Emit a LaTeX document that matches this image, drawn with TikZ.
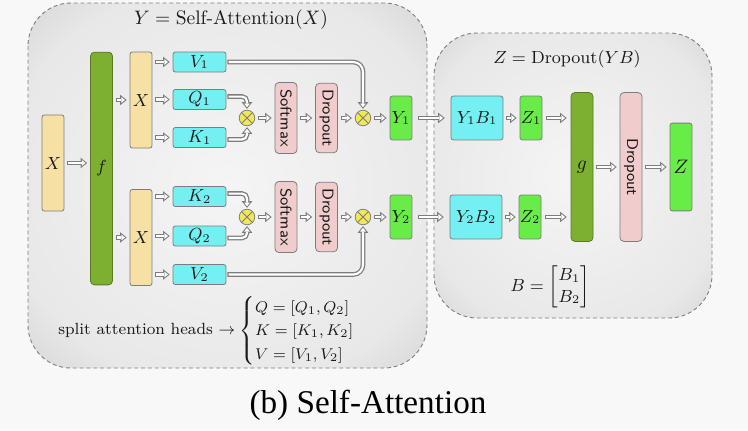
\documentclass[tikz,border=0pt]{standalone}
\usepackage{amsmath,amssymb}
\usepackage{fontspec}
\newfontfamily\capfont{Liberation Serif}
\usetikzlibrary{arrows.meta,calc}

\definecolor{bgcol}{RGB}{248,248,248}
\definecolor{xtan}{RGB}{246,224,164}
\definecolor{fgreen}{RGB}{125,176,48}
\definecolor{qcyan}{RGB}{116,240,242}
\definecolor{oppink}{RGB}{240,204,204}
\definecolor{ygreen}{RGB}{104,236,72}
\definecolor{mulyel}{RGB}{240,232,90}
\definecolor{edge}{RGB}{125,125,125}
\pgfdeclareradialshading{panelshade}{\pgfpoint{0bp}{0bp}}{color(0bp)=(black!4); color(28bp)=(black!9); color(50bp)=(black!28); color(72bp)=(black!55)}

\begin{document}
\begin{tikzpicture}[x=0.018cm, y=-0.018cm, every node/.style={font=\small, text=black!90},
    panel/.style={draw=edge, dash pattern=on 2pt off 1.5pt, line width=0.45pt, rounded corners=22pt, shading=panelshade},
    box/.style={draw=edge, line width=0.4pt, rounded corners=1.2pt, inner sep=0pt, minimum width=0.396cm, font=\small},
    inbox/.style={box, fill=xtan, minimum height=1.73cm},
    fnet/.style={box, fill=fgreen, draw=fgreen!70!black, rounded corners=2pt, minimum height=#1},
    qkv/.style={box, fill=qcyan, minimum width=0.954cm, minimum height=0.36cm},
    opbox/.style={box, fill=oppink, rounded corners=2pt, rotate=-90, minimum width=#1, minimum height=0.396cm, font=\sffamily\footnotesize},
    outbox/.style={box, fill=ygreen, minimum height=#1},
    mul/.style={circle, draw=edge, fill=mulyel, inner sep=0pt, minimum size=0.28cm,
      path picture={\draw[edge, line width=0.5pt] (path picture bounding box.north west) -- (path picture bounding box.south east)
        (path picture bounding box.north east) -- (path picture bounding box.south west);}},
    dbl/.style={draw=edge, line width=2.4pt, -{Triangle[width=5.4pt,length=3.4pt,line width=0pt]},
      shorten <=#1, shorten >=#1,
      postaction={draw=white, line width=1.1pt, -{Triangle[width=3pt,length=1.9pt,line width=0pt]},
        shorten <=#1+0.6pt, shorten >=#1+0.85pt}},
    dbl/.default=1.5pt]
    % background and panels
    \fill[bgcol] (0,0) rectangle (748,430);
    \shadedraw[panel] (28,3) rectangle (427,368);
    \shadedraw[panel] (434,33) rectangle (712,318);
    \node[font=\normalsize] (ttl1) at (231,20) {$Y=\text{Self-Attention}(X)$};
    \node (ttl2) at (567,59) {$Z=\text{Dropout}(YB)$};
    % input and projections
    \node[inbox] (xin) at (53,163) {$X$};
    \node[fnet=4.19cm] (f) at (101.5,168.5) {$f$};
    \node[inbox] (xa) at (141,100) {$X$};
    \node[inbox] (xb) at (141,237.5) {$X$};
    \node[qkv] (v1) at (199.5,62) {$V_1$};
    \node[qkv] (q1) at (199.5,99.5) {$Q_1$};
    \node[qkv] (k1) at (199.5,137.5) {$K_1$};
    \node[qkv] (k2) at (199.5,196.5) {$K_2$};
    \node[qkv] (q2) at (199.5,236) {$Q_2$};
    \node[qkv] (v2) at (199.5,274.5) {$V_2$};
    \draw[dbl] (xin) -- (xin -| f.west);
    \draw[dbl] (f.east |- xa) -- (xa);
    \draw[dbl] (f.east |- xb) -- (xb);
    \foreach \n in {v1,q1,k1} \draw[dbl] (xa.east |- \n) -- (\n);
    \foreach \n in {k2,q2,v2} \draw[dbl] (xb.east |- \n) -- (\n);
    % two heads
    \foreach \r/\h in {1/118,2/217} {
      \node[mul] (ma\r) at (247,\h) {};
      \node[opbox=1.28cm] (sm\r) at (286,\h) {Softmax};
      \node[opbox=1.25cm] (dp\r) at (326.5,\h) {Dropout};
      \node[mul] (mb\r) at (363,\h) {};
      \node[outbox=0.79cm] (y\r) at (401,\h) {$Y_\r$};
      \draw[dbl] (ma\r) -- (sm\r);
      \draw[dbl] (sm\r) -- (dp\r);
      \draw[dbl] (dp\r) -- (mb\r);
      \draw[dbl] (mb\r) -- (y\r);
    }
    \draw[dbl=0.5pt, rounded corners=2.5pt] ([yshift=1.5pt]q1.east) -| (ma1.north);
    \draw[dbl=0.5pt, rounded corners=2.5pt] ([yshift=-1pt]k1.east) -| (ma1.south);
    \draw[dbl=0.5pt, rounded corners=2.5pt] ([yshift=1.5pt]k2.east) -| (ma2.north);
    \draw[dbl=0.5pt, rounded corners=2.5pt] ([yshift=-1pt]q2.east) -| (ma2.south);
    \draw[dbl=0.5pt, rounded corners=5pt] (v1.east) -| (mb1.north);
    \draw[dbl=0.5pt, rounded corners=5pt] (v2.east) -| (mb2.south);
    % output projection
    \node[qkv, minimum width=0.936cm, minimum height=0.79cm] (yb1) at (477,118) {$Y_1B_1$};
    \node[outbox=0.79cm] (z1) at (531,118) {$Z_1$};
    \node[qkv, minimum width=0.936cm, minimum height=0.79cm] (yb2) at (476,217) {$Y_2B_2$};
    \node[outbox=0.79cm] (z2) at (530,217) {$Z_2$};
    \node[fnet=2.68cm, font=\normalsize] (g) at (582,167) {$g$};
    \node[opbox=2.68cm] (dp3) at (631,167) {Dropout};
    \node[outbox=1.58cm, font=\normalsize] (z) at (681,167) {$Z$};
    \foreach \r in {1,2} {
      \draw[dbl=3pt] (y\r) -- (yb\r);
      \draw[dbl] (yb\r) -- (z\r);
      \draw[dbl=2pt] (z\r) -- (z\r -| g.west);
    }
    \draw[dbl] (g) -- (dp3);
    \draw[dbl] (dp3) -- (z);
    % notes
    \node (bmat) at (550,287) {$B=\begin{bmatrix} B_1\\ B_2\end{bmatrix}$};
    \node[font=\fontsize{8.3pt}{10pt}\selectfont] (heads) at (215,331) {split attention heads $\rightarrow\begin{cases} Q=[Q_1,Q_2]\\ K=[K_1,K_2]\\ V=[V_1,V_2]\end{cases}$};
    \node[font=\capfont\fontsize{17pt}{20pt}\selectfont, text=black] (cap) at (368,405) {(b) Self-Attention};
\end{tikzpicture}
\end{document}
